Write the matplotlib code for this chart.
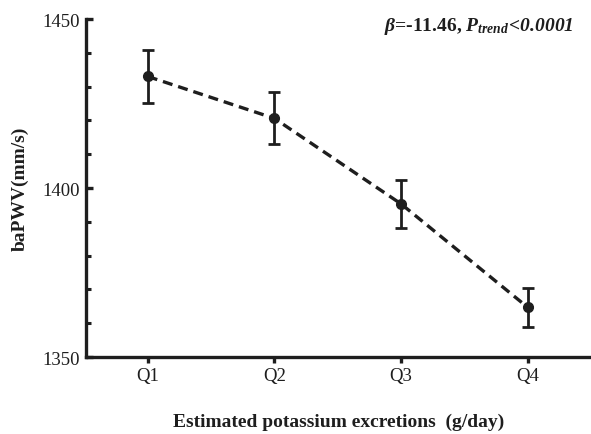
import matplotlib
matplotlib.use("Agg")
import matplotlib.pyplot as plt
from matplotlib.ticker import MultipleLocator

# Quartiles of estimated potassium excretion
groups = ["Q1", "Q2", "Q3", "Q4"]
bapwv = [1433.0, 1420.6, 1395.3, 1364.7]
err = [7.8, 7.7, 7.2, 5.8]

plt.rcParams['font.family'] = ['Liberation Serif', 'DejaVu Serif']
plt.rcParams['mathtext.fontset'] = 'custom'
plt.rcParams['mathtext.rm'] = 'Liberation Serif:bold:italic'
plt.rcParams['mathtext.it'] = 'Liberation Serif:bold:italic'
plt.rcParams['mathtext.bf'] = 'Liberation Serif:bold:italic'

ink = '#1e1e1e'
fig = plt.figure(figsize=(5.91, 4.35), dpi=100)
ax = fig.add_axes([0.145, 0.177, 0.855, 0.777])

x = list(range(1, len(groups) + 1))
ax.errorbar(x, bapwv, yerr=err, fmt='o', color=ink, ms=7, capsize=4.5,
            elinewidth=2, capthick=2, zorder=3)
ax.plot(x, bapwv, '--', color=ink, lw=2.4, dashes=(3, 1.8), zorder=2)

ax.set_xlim(0.51, 4.5)
ax.set_ylim(1350, 1450)
ax.set_xticks(x)
ax.set_xticklabels(groups)
ax.set_yticks([1350, 1400, 1450])
ax.yaxis.set_minor_locator(MultipleLocator(10))

for s in ['top', 'right']:
    ax.spines[s].set_visible(False)
for s in ['left', 'bottom']:
    ax.spines[s].set_linewidth(2.4)
    ax.spines[s].set_color(ink)

ax.tick_params(axis='x', which='major', direction='out', length=4.5, width=2.4,
               color=ink, labelsize=13.5, labelcolor=ink, pad=3)
ax.tick_params(axis='y', which='major', direction='in', length=5, width=2.4,
               color=ink, labelsize=13.5, labelcolor=ink, pad=4)
ax.tick_params(axis='y', which='minor', direction='in', length=3.5, width=2.2, color=ink)

ax.set_ylabel('baPWV(mm/s)', fontsize=14, fontweight='bold', color=ink, labelpad=10)
ax.set_xlabel('Estimated potassium excretions  (g/day)', fontsize=14,
              fontweight='bold', color=ink, labelpad=20)

ax.text(0.966, 1.012, r'$\beta$=-11.46, $P_{trend}\!<\!0.0001$',
        transform=ax.transAxes, ha='right', va='top', fontsize=14,
        fontweight='bold', color=ink)

fig.savefig('out.png', dpi=100)
